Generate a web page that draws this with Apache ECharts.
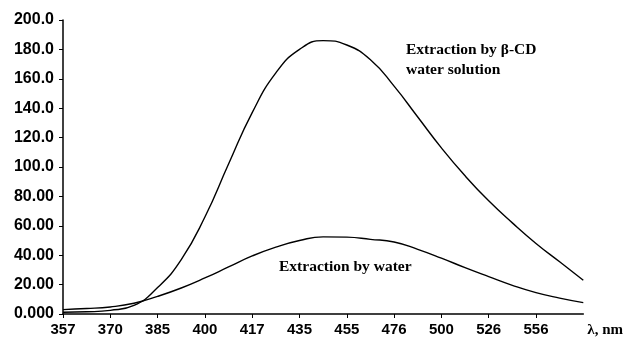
<!DOCTYPE html>
<html>
<head>
<meta charset="utf-8">
<script src="https://cdn.jsdelivr.net/npm/echarts@6/dist/echarts.min.js"></script>
<style>
html,body{margin:0;padding:0;background:#fff;}
#chart{width:626px;height:345px;}
</style>
</head>
<body>
<div id="chart"></div>
<script>
// wavelength (nm), ticks on every other point, labels only on the ticked ones
const wavelengths = ['357','363','370','377','385','392','400','408','417','426','435','445','455','465','476','488','500','513','526','541','556','571','588']
// fluorescence intensity, extraction by beta-CD water solution
const cdValues = [1.2, 1.5, 2.5, 5.8, 18, 37, 66, 102, 137, 164, 180, 186, 183, 173, 155, 134, 113, 94, 77, 62, 48, 35.5, 23]
// fluorescence intensity, extraction by water
const waterValues = [3.0, 3.7, 4.8, 7.3, 12, 17.7, 24.5, 32, 39.5, 45.5, 50, 52.5, 52.3, 50.8, 49, 44, 38, 31.5, 25.4, 19.5, 14.5, 10.8, 7.7]
const labelCd = ['Extraction by β-CD', 'water solution']
const labelWater = 'Extraction by water'

const chart = echarts.init(document.getElementById('chart'))
const sansBold = {fontFamily:'Liberation Sans', fontWeight:'bold', color:'#000'}
const serifBold = {fontFamily:'Liberation Serif', fontWeight:'bold', fontSize:15.5, fill:'#000'}

const option = {
  animation: false,
  grid: {left:63, right:40, top:20, bottom:31},
  xAxis: {
    type: 'category',
    boundaryGap: false,
    data: wavelengths,
    name: 'λ, nm',
    nameLocation: 'end',
    nameGap: 4,
    nameTextStyle: {fontFamily:'Liberation Serif', fontWeight:'bold', fontSize:15, color:'#000', verticalAlign:'top', padding:[9,0,0,0]},
    axisLine: {lineStyle:{color:'#000', width:1.5}},
    axisTick: {interval:1, length:4, lineStyle:{color:'#000'}},
    axisLabel: Object.assign({interval:1, margin:8, fontSize:15, showMaxLabel:false}, sansBold),
    splitLine: {show:false}
  },
  yAxis: {
    type: 'value',
    min: 0,
    max: 200,
    interval: 20,
    axisLine: {show:true, lineStyle:{color:'#000', width:1.5}},
    axisTick: {show:true, length:4, lineStyle:{color:'#000'}},
    axisLabel: Object.assign({margin:9, fontSize:16, formatter: v => v.toPrecision(4)}, sansBold),
    splitLine: {show:false}
  },
  series: [
    {type:'line', data:cdValues, smooth:0.5, symbol:'none', lineStyle:{color:'#000', width:1.4}},
    {type:'line', data:waterValues, smooth:0.5, symbol:'none', lineStyle:{color:'#000', width:1.4}}
  ],
  graphic: [
    {type:'text', left:406, top:40, style:Object.assign({text:labelCd.join('\n'), lineHeight:20}, serifBold)},
    {type:'text', left:279, top:259, style:Object.assign({text:labelWater}, serifBold)}
  ]
}
chart.setOption(option)
</script>
</body>
</html>
